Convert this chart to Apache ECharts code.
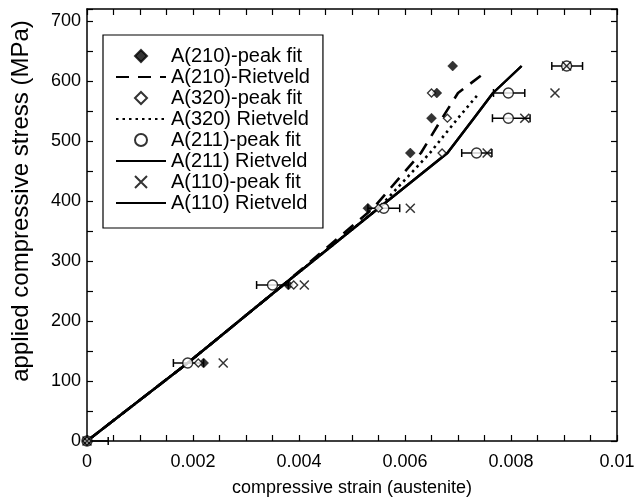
<!DOCTYPE html>
<html>
<head>
<meta charset="utf-8">
<script src="https://cdn.jsdelivr.net/npm/echarts@6/dist/echarts.min.js"></script>
<style>html,body{margin:0;padding:0;background:#fff}#c{width:636px;height:503px}</style>
</head>
<body>
<div id="c"></div>
<script>
// ---- data (strain, stress MPa) ----
const xTickLabels = ['0', '0.002', '0.004', '0.006', '0.008', '0.01'];
const yTickLabels = ['0', '100', '200', '300', '400', '500', '600', '700'];

const a210Peak = [[0,0],[0.0022,130],[0.0038,260],[0.0053,388],[0.0061,480],[0.0065,538],[0.0066,580],[0.0069,625]];
const a210Riet = [[0,0],[0.0019,130],[0.0037,260],[0.0054,388],[0.0063,480],[0.0067,538],[0.0070,580],[0.00745,610]];
const a320Peak = [[0,0],[0.0021,130],[0.0039,260],[0.0055,388],[0.0067,480],[0.0068,538],[0.0065,580]];
const a320Riet = [[0,0],[0.0019,130],[0.0037,260],[0.0055,388],[0.00647,480],[0.0070,538],[0.0074,580]];
const a211Peak = [[0,0],[0.0019,130],[0.0035,260],[0.0056,388],[0.00735,480],[0.00795,538],[0.00795,580],[0.00905,625]];
const a211ErrLow  = [0, 0.00163, 0.0032, 0.0053, 0.00707, 0.00765, 0.00767, 0.00877];
const a211ErrHigh = [0.0004, 0.0022, 0.0038, 0.0059, 0.00764, 0.00836, 0.00826, 0.00935];
const a211Riet = [[0,0],[0.0019,130],[0.0037,260],[0.0055,388],[0.0068,480],[0.0073,538],[0.00766,580],[0.0082,625]];
const a110Peak = [[0,0],[0.00257,130],[0.0041,260],[0.0061,388],[0.00755,480],[0.00826,538],[0.00883,580],[0.00905,625]];
const a110Riet = [[0,0],[0.0019,130],[0.0037,260],[0.0055,388],[0.0068,480],[0.0073,538],[0.00766,580],[0.0082,625]];

const errData = a211Peak.map((p, i) => [p[0], p[1], a211ErrLow[i], a211ErrHigh[i]]);

const FONT = 'Liberation Sans, Arial, Helvetica, sans-serif';
const xLabelFmt = v => {
  const k = v / 0.002;
  if (Math.abs(k - Math.round(k)) > 1e-6) return '';
  const i = Math.round(k);
  return xTickLabels[i] !== undefined ? xTickLabels[i] : '';
};
const yLabelFmt = v => {
  if (v % 100 !== 0) return '';
  const i = v / 100;
  return yTickLabels[i] !== undefined ? yTickLabels[i] : '';
};

const XMIN = 0, XMAX = 0.01, YMIN = 0, YMAX = 720;
const tickCommon = { show: true, inside: true, length: 6, lineStyle: { color: '#000', width: 1.2 } };
const lineCommon = { show: true, onZero: false, lineStyle: { color: '#000', width: 1.5 } };

const crossPath = 'path://M0,0L10,10M10,0L0,10';
const diamondPath = 'path://M5,0L10,5L5,10L0,5Z';

const chart = echarts.init(document.getElementById('c'), null, { renderer: 'canvas' });
chart.setOption({
  animation: false,
  backgroundColor: '#fff',
  textStyle: { fontFamily: FONT },
  grid: { left: 87, right: 19, top: 9, bottom: 62, containLabel: false, outerBoundsMode: 'none' },
  xAxis: [
    {
      type: 'value', min: XMIN, max: XMAX, interval: 0.0005, position: 'bottom',
      axisLine: lineCommon, axisTick: tickCommon, splitLine: { show: false },
      axisLabel: { formatter: xLabelFmt, color: '#000', fontSize: 18, fontFamily: FONT, margin: 12, showMinLabel: true, showMaxLabel: true },
      name: 'compressive strain (austenite)', nameLocation: 'middle', nameGap: 38, nameMoveOverlap: false,
      nameTextStyle: { color: '#000', fontSize: 18, fontFamily: FONT }
    },
    {
      type: 'value', min: XMIN, max: XMAX, interval: 0.0005, position: 'top',
      axisLine: lineCommon, axisTick: tickCommon, splitLine: { show: false },
      axisLabel: { show: false }
    }
  ],
  yAxis: [
    {
      type: 'value', min: YMIN, max: YMAX, interval: 50, position: 'left',
      axisLine: lineCommon, axisTick: tickCommon, splitLine: { show: false },
      axisLabel: { formatter: yLabelFmt, color: '#000', fontSize: 18, fontFamily: FONT, margin: 6 },
      name: 'applied compressive stress (MPa)', nameLocation: 'middle', nameGap: 54, nameMoveOverlap: false,
      nameTextStyle: { color: '#000', fontSize: 24, fontFamily: FONT, padding: [0, 0, 0, 48] }
    },
    {
      type: 'value', min: YMIN, max: YMAX, interval: 50, position: 'right',
      axisLine: lineCommon, axisTick: tickCommon, splitLine: { show: false },
      axisLabel: { show: false }
    }
  ],
  legend: {
    orient: 'vertical', left: 103, top: 35,
    backgroundColor: '#fff', borderColor: '#000', borderWidth: 1.2, borderRadius: 0,
    padding: [11, 13, 15, 12], itemGap: 1, itemWidth: 50, itemHeight: 12,
    textStyle: { color: '#000', fontSize: 20, fontFamily: FONT },
    data: [
      { name: 'A(210)-peak fit', icon: diamondPath, itemStyle: { color: '#000' } },
      { name: 'A(210)-Rietveld', itemStyle: { opacity: 0 } },
      { name: 'A(320)-peak fit', icon: diamondPath },
      { name: 'A(320) Rietveld', itemStyle: { opacity: 0 } },
      { name: 'A(211)-peak fit', icon: 'circle' },
      { name: 'A(211) Rietveld', itemStyle: { opacity: 0 } },
      { name: 'A(110)-peak fit', icon: crossPath },
      { name: 'A(110) Rietveld', itemStyle: { opacity: 0 } }
    ]
  },
  series: [
    { name: 'A(210)-Rietveld', type: 'line', data: a210Riet, symbol: 'none', showSymbol: false, z: 2,
      lineStyle: { color: '#000', width: 2.6, type: [13, 9] }, itemStyle: { color: '#000' } },
    { name: 'A(320) Rietveld', type: 'line', data: a320Riet, symbol: 'none', showSymbol: false, z: 2,
      lineStyle: { color: '#000', width: 2.6, type: [2.5, 4] }, itemStyle: { color: '#000' } },
    { name: 'A(211) Rietveld', type: 'line', data: a211Riet, symbol: 'none', showSymbol: false, z: 2,
      lineStyle: { color: '#000', width: 2.4, type: 'solid' }, itemStyle: { color: '#000' } },
    { name: 'A(110) Rietveld', type: 'line', data: a110Riet, symbol: 'none', showSymbol: false, z: 2,
      lineStyle: { color: '#000', width: 2.4, type: 'solid' }, itemStyle: { color: '#000' } },
    { name: 'A(211) error', type: 'custom', data: errData, z: 3,
      encode: { x: [0, 2, 3], y: 1 },
      renderItem: (params, api) => {
        const y = api.value(1);
        const p1 = api.coord([api.value(2), y]);
        const p2 = api.coord([api.value(3), y]);
        const h = 4;
        const st = { stroke: '#000', lineWidth: 1.5 };
        return { type: 'group', children: [
          { type: 'line', shape: { x1: p1[0], y1: p1[1], x2: p2[0], y2: p2[1] }, style: st },
          { type: 'line', shape: { x1: p1[0], y1: p1[1] - h, x2: p1[0], y2: p1[1] + h }, style: st },
          { type: 'line', shape: { x1: p2[0], y1: p2[1] - h, x2: p2[0], y2: p2[1] + h }, style: st }
        ] };
      } },
    { name: 'A(210)-peak fit', type: 'scatter', data: a210Peak, symbol: 'diamond', symbolSize: 10, z: 5,
      itemStyle: { color: '#000', borderColor: '#000', borderWidth: 0.5 } },
    { name: 'A(320)-peak fit', type: 'scatter', data: a320Peak, symbol: 'diamond', symbolSize: 8, z: 5,
      itemStyle: { color: '#fff', borderColor: '#000', borderWidth: 1.3 } },
    { name: 'A(211)-peak fit', type: 'scatter', data: a211Peak, symbol: 'circle', symbolSize: 10, z: 4,
      itemStyle: { color: '#fff', borderColor: '#000', borderWidth: 1.4 } },
    { name: 'A(110)-peak fit', type: 'scatter', data: a110Peak, symbol: crossPath, symbolSize: 9, z: 6,
      itemStyle: { color: 'none', borderColor: '#000', borderWidth: 1.5 } }
  ]
});
</script>
</body>
</html>
